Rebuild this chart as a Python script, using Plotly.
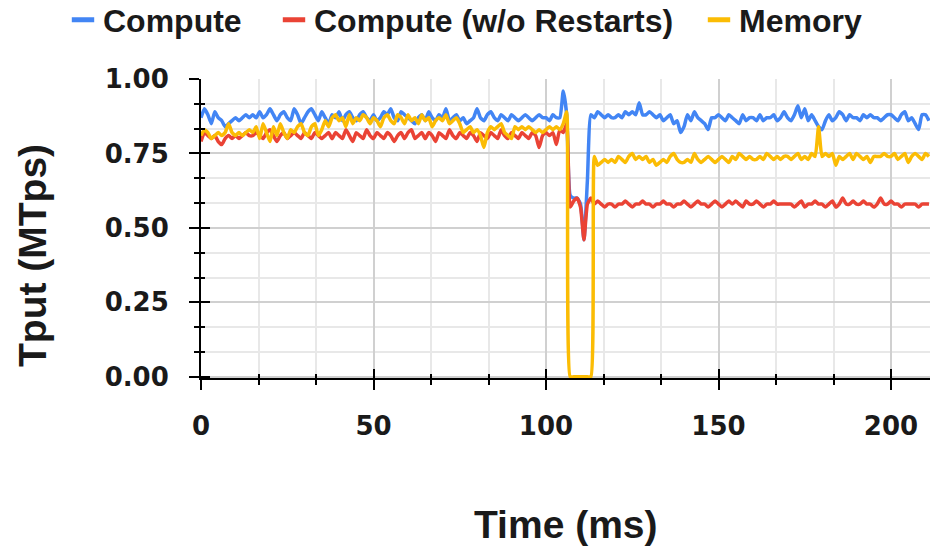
import plotly.graph_objects as go

time_ms = list(range(212))

compute = [
    0.87, 0.90, 0.88, 0.85, 0.89, 0.87, 0.86, 0.84, 0.85, 0.86,
    0.87, 0.86, 0.87, 0.88, 0.87, 0.88, 0.87, 0.89, 0.87, 0.88,
    0.90, 0.88, 0.86, 0.88, 0.89, 0.87, 0.86, 0.90, 0.88, 0.85,
    0.87, 0.89, 0.90, 0.88, 0.86, 0.89, 0.87, 0.85, 0.88, 0.87,
    0.89, 0.86, 0.88, 0.89, 0.87, 0.86, 0.88, 0.89, 0.87, 0.86,
    0.88, 0.86, 0.87, 0.89, 0.88, 0.90, 0.87, 0.86, 0.89, 0.88,
    0.87, 0.86, 0.85, 0.87, 0.88, 0.86, 0.89, 0.87, 0.86, 0.88,
    0.87, 0.90, 0.86, 0.87, 0.88, 0.86, 0.87, 0.85, 0.86, 0.87,
    0.90, 0.87, 0.86, 0.88, 0.89, 0.87, 0.86, 0.88, 0.87, 0.86,
    0.88, 0.87, 0.86, 0.87, 0.88, 0.87, 0.86, 0.87, 0.88, 0.87,
    0.87, 0.86, 0.88, 0.87, 0.87, 0.96, 0.88, 0.61, 0.60, 0.60,
    0.58, 0.46, 0.66, 0.88, 0.87, 0.89, 0.88, 0.87, 0.88, 0.87,
    0.87, 0.88, 0.87, 0.89, 0.88, 0.89, 0.88, 0.92, 0.88, 0.88,
    0.89, 0.88, 0.87, 0.88, 0.86, 0.87, 0.88, 0.85, 0.86, 0.82,
    0.84, 0.88, 0.86, 0.89, 0.87, 0.86, 0.85, 0.83, 0.87, 0.87,
    0.88, 0.87, 0.86, 0.88, 0.87, 0.86, 0.85, 0.88, 0.86, 0.87,
    0.87, 0.86, 0.88, 0.86, 0.87, 0.87, 0.88, 0.86, 0.87, 0.89,
    0.87, 0.86, 0.88, 0.91, 0.87, 0.90, 0.86, 0.88, 0.86, 0.84,
    0.83, 0.86, 0.88, 0.86, 0.87, 0.89, 0.88, 0.86, 0.88, 0.87,
    0.87, 0.86, 0.88, 0.87, 0.88, 0.87, 0.87, 0.86, 0.87, 0.88,
    0.88, 0.87, 0.86, 0.88, 0.89, 0.86, 0.87, 0.85, 0.83, 0.88,
    0.88, 0.86,
]

compute_no_restarts = [
    0.79, 0.82, 0.81, 0.80, 0.81, 0.79, 0.78, 0.80, 0.81, 0.80,
    0.81, 0.80, 0.81, 0.82, 0.81, 0.81, 0.82, 0.81, 0.80, 0.82,
    0.83, 0.81, 0.79, 0.81, 0.82, 0.80, 0.81, 0.82, 0.81, 0.80,
    0.82, 0.81, 0.80, 0.82, 0.81, 0.80, 0.81, 0.82, 0.80, 0.82,
    0.81, 0.80, 0.83, 0.81, 0.79, 0.82, 0.81, 0.80, 0.83, 0.81,
    0.80, 0.82, 0.81, 0.80, 0.82, 0.81, 0.79, 0.81, 0.82, 0.80,
    0.82, 0.83, 0.80, 0.81, 0.82, 0.80, 0.82, 0.81, 0.79, 0.82,
    0.81, 0.80, 0.83, 0.81, 0.80, 0.82, 0.81, 0.80, 0.82, 0.81,
    0.79, 0.82, 0.81, 0.80, 0.82, 0.81, 0.80, 0.83, 0.81, 0.80,
    0.82, 0.81, 0.80, 0.82, 0.81, 0.80, 0.82, 0.81, 0.77, 0.81,
    0.82, 0.81, 0.82, 0.78, 0.83, 0.82, 0.85, 0.57, 0.59, 0.60,
    0.57, 0.46, 0.58, 0.60, 0.58, 0.59, 0.58, 0.57, 0.58, 0.58,
    0.57, 0.58, 0.58, 0.59, 0.58, 0.57, 0.58, 0.58, 0.59, 0.58,
    0.58, 0.57, 0.58, 0.58, 0.59, 0.58, 0.58, 0.57, 0.58, 0.58,
    0.59, 0.58, 0.57, 0.58, 0.59, 0.58, 0.58, 0.57, 0.58, 0.59,
    0.58, 0.57, 0.58, 0.59, 0.58, 0.59, 0.58, 0.57, 0.59, 0.58,
    0.58, 0.59, 0.58, 0.57, 0.58, 0.58, 0.59, 0.58, 0.58, 0.58,
    0.58, 0.58, 0.57, 0.58, 0.59, 0.57, 0.58, 0.58, 0.59, 0.58,
    0.58, 0.57, 0.58, 0.59, 0.57, 0.58, 0.60, 0.58, 0.58, 0.59,
    0.58, 0.58, 0.59, 0.58, 0.58, 0.57, 0.58, 0.60, 0.58, 0.58,
    0.59, 0.58, 0.58, 0.57, 0.58, 0.58, 0.58, 0.58, 0.57, 0.58,
    0.58, 0.58,
]

memory = [
    0.81, 0.83, 0.82, 0.80, 0.81, 0.82, 0.81, 0.82, 0.85, 0.82,
    0.81, 0.82, 0.81, 0.82, 0.83, 0.82, 0.84, 0.80, 0.85, 0.82,
    0.79, 0.84, 0.81, 0.85, 0.82, 0.80, 0.83, 0.82, 0.84, 0.85,
    0.82, 0.81, 0.84, 0.85, 0.81, 0.83, 0.86, 0.84, 0.87, 0.88,
    0.86, 0.87, 0.84, 0.88, 0.85, 0.87, 0.86, 0.88, 0.87, 0.85,
    0.87, 0.86, 0.84, 0.87, 0.88, 0.86, 0.85, 0.88, 0.87, 0.85,
    0.88, 0.86, 0.87, 0.85, 0.88, 0.86, 0.87, 0.84, 0.86, 0.87,
    0.86, 0.88, 0.85, 0.86, 0.87, 0.85, 0.82, 0.83, 0.84, 0.82,
    0.83, 0.81, 0.77, 0.82, 0.84, 0.83, 0.84, 0.85, 0.82, 0.81,
    0.80, 0.84, 0.83, 0.84, 0.83, 0.84, 0.83, 0.82, 0.83, 0.82,
    0.83, 0.84, 0.83, 0.84, 0.83, 0.85, 0.89, 0.00, 0.00, 0.00,
    0.00, 0.00, 0.00, 0.00, 0.74, 0.71, 0.72, 0.73, 0.72, 0.73,
    0.72, 0.74, 0.73, 0.72, 0.74, 0.75, 0.73, 0.74, 0.73, 0.74,
    0.72, 0.73, 0.71, 0.72, 0.73, 0.72, 0.74, 0.75, 0.73, 0.72,
    0.72, 0.73, 0.72, 0.75, 0.73, 0.72, 0.73, 0.74, 0.73, 0.72,
    0.73, 0.74, 0.73, 0.72, 0.74, 0.73, 0.75, 0.74, 0.73, 0.74,
    0.73, 0.73, 0.74, 0.73, 0.75, 0.74, 0.73, 0.74, 0.73, 0.74,
    0.74, 0.73, 0.74, 0.75, 0.73, 0.74, 0.73, 0.75, 0.74, 0.84,
    0.74, 0.75, 0.74, 0.75, 0.71, 0.74, 0.73, 0.74, 0.75, 0.73,
    0.75, 0.74, 0.73, 0.74, 0.72, 0.74, 0.74, 0.74, 0.75, 0.74,
    0.74, 0.75, 0.73, 0.74, 0.75, 0.72, 0.74, 0.75, 0.74, 0.73,
    0.75, 0.74,
]

series_names = ["Compute", "Compute (w/o Restarts)", "Memory"]
series_values = [compute, compute_no_restarts, memory]
colors = ["#4285F4", "#EA4335", "#FBBC04"]
legend_ids = ["legend", "legend2", "legend3"]
legend_x_px = [63, 274, 699]

y_ticks = [0, 0.25, 0.5, 0.75, 1.0]
y_tick_labels = ["0.00", "0.25", "0.50", "0.75", "1.00"]
x_ticks = [0, 50, 100, 150, 200]

W, H = 930, 549
FONT = "Liberation Sans, Arial, sans-serif"
TICKFONT = "DejaVu Sans, sans-serif"
TXT = "#1a1a1a"

fig = go.Figure()
for name, vals, col in zip(series_names, series_values, colors):
    fig.add_trace(go.Scatter(x=time_ms, y=vals, mode="lines", name=name,
                             line=dict(color=col, width=3.5, shape="spline", smoothing=0.5),
                             showlegend=False))

# legend entries (separate legends for exact placement)
for name, col, lid in zip(series_names, colors, legend_ids):
    fig.add_trace(go.Scatter(x=[None], y=[None], mode="markers", name=name,
                             marker=dict(symbol="line-ew", size=16, color=col,
                                         line=dict(color=col, width=6)),
                             legend=lid, xaxis="x2", yaxis="y2"))

xr = [0, 211.3]
yr = [-0.004, 1.0]

tick_font = dict(family=TICKFONT, size=26, color=TXT, weight="bold")

layout = dict(
    width=W, height=H,
    margin=dict(l=201, r=0, t=79, b=171),
    paper_bgcolor="white", plot_bgcolor="white",
    xaxis=dict(range=xr, tickmode="array", tickvals=x_ticks,
               ticks="outside", ticklen=10, tickwidth=2, tickcolor="black",
               showline=True, linecolor="black", linewidth=2,
               showgrid=True, gridcolor="#d0d0d0", gridwidth=2,
               zeroline=False, tickfont=tick_font, ticklabelstandoff=14,
               minor=dict(dtick=50 / 3, tick0=0, ticks="outside", ticklen=5,
                          tickwidth=1.5, tickcolor="black", showgrid=True,
                          gridcolor="#e8e8e8", gridwidth=2)),
    yaxis=dict(range=yr, tickmode="array", tickvals=y_ticks, ticktext=y_tick_labels,
               ticks="outside", ticklen=10, tickwidth=2, tickcolor="black",
               showline=True, linecolor="black", linewidth=2,
               showgrid=True, gridcolor="#d0d0d0", gridwidth=2,
               zeroline=False, tickfont=tick_font, ticklabelstandoff=15,
               minor=dict(dtick=0.25 / 3, tick0=0, ticks="outside", ticklen=5,
                          tickwidth=1.5, tickcolor="black", showgrid=True,
                          gridcolor="#e8e8e8", gridwidth=2)),
    xaxis2=dict(range=xr, overlaying="x", anchor="y2", side="bottom",
                tickmode="array", tickvals=x_ticks, ticks="inside", ticklen=9,
                tickwidth=2, tickcolor="black", showticklabels=False,
                showgrid=False, zeroline=False, showline=False,
                minor=dict(dtick=50 / 3, tick0=0, ticks="inside", ticklen=4,
                           tickwidth=1.5, tickcolor="black", showgrid=False)),
    yaxis2=dict(range=yr, overlaying="y", anchor="x2", side="left",
                tickmode="array", tickvals=y_ticks, ticks="inside", ticklen=9,
                tickwidth=2, tickcolor="black", showticklabels=False,
                showgrid=False, zeroline=False, showline=False,
                minor=dict(dtick=0.25 / 3, tick0=0, ticks="inside", ticklen=4,
                           tickwidth=1.5, tickcolor="black", showgrid=False)),
    annotations=[
        dict(text="Time (ms)", xref="paper", yref="paper", x=0.5, y=(378 - 524) / 299,
             xanchor="center", yanchor="middle", showarrow=False,
             font=dict(family=FONT, size=39, color=TXT, weight="bold")),
        dict(text="Tput (MTps)", xref="paper", yref="paper", x=(32 - 201) / 729,
             y=(378 - 256) / 299, xanchor="center", yanchor="middle", textangle=-90,
             showarrow=False, font=dict(family=FONT, size=39, color=TXT, weight="bold")),
    ],
)
for lid, xpx in zip(legend_ids, legend_x_px):
    layout[lid] = dict(orientation="h", xref="container", yref="container",
                       x=xpx / W, y=1 - 20 / H, xanchor="left", yanchor="middle",
                       bgcolor="rgba(0,0,0,0)",
                       font=dict(family=FONT, size=32, color=TXT, weight="bold"))

fig.update_layout(**layout)
fig.write_html("out.html")
